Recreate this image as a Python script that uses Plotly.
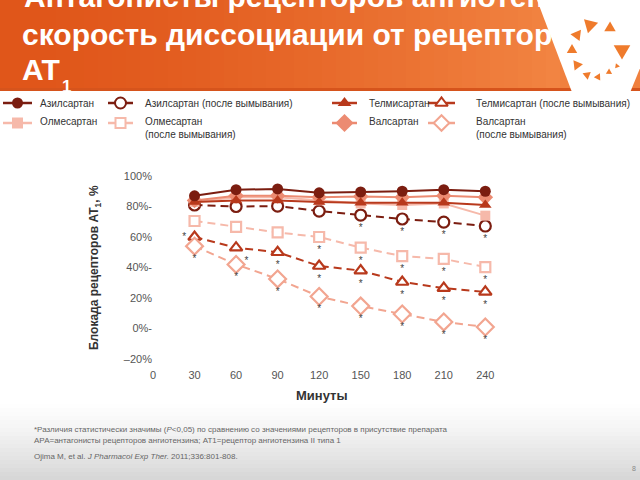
import numpy as np
import plotly.graph_objects as go

# Данные
minutes = [30, 60, 90, 120, 150, 180, 210, 240]

azil = [87, 91, 91.5, 89, 89.5, 90, 91, 90]
azil_wash = [81, 80, 80.3, 77, 74.4, 71.8, 69.8, 67.2]
telmi = [83, 84, 84, 83, 82.5, 82.5, 82.5, 81]
telmi_wash = [60, 53, 50, 41, 38, 30.5, 26.5, 24]
olme = [83, 86, 86, 84, 82, 81, 82, 74]
olme_wash = [70.5, 66.6, 63, 60, 53, 47.5, 45.6, 40.3]
vals = [84, 87, 87, 86, 86.5, 86, 87, 86]
vals_wash = [54, 42, 32.5, 21, 14.7, 9.5, 4.3, 1]

# точки со звездочкой (P<0,05)
azil_sig = [4, 5, 6, 7]
olme_sig = [3, 4, 5, 6, 7]
telmi_sig = [0, 1, 2, 3, 4, 5, 6, 7]
vals_sig = [0, 1, 2, 3, 4, 5, 6, 7]

x_ticks = [0, 30, 60, 90, 120, 150, 180, 210, 240]
y_ticks = [-20, 0, 20, 40, 60, 80, 100]
y_labels = ["–20%", "0%-", "20%", "40%-", "60%", "80%-", "100%"]

DARK = "#7B1D10"
RED = "#B8391C"
PINK = "#F6B9AA"
SALMON = "#EC8B72"
PINK_W = "#F2A590"
FONT = "Liberation Sans"

W, H = 640, 480


def px(x):
    return x / W


def py(y):
    return 1 - y / H


fig = go.Figure()

# фон: шапка с градиентом
shapes = []
c0 = np.array([224, 86, 26])
c1 = np.array([242, 132, 66])
n = 40
for i in range(n):
    t = i / (n - 1)
    c = (c0 + (c1 - c0) * t ** 1.5).astype(int)
    shapes.append(dict(type="rect", xref="paper", yref="paper", layer="below",
                       x0=px(i * 560 / n), x1=px((i + 1) * 560 / n + 1),
                       y0=py(91), y1=py(0), line_width=0,
                       fillcolor=f"rgb({c[0]},{c[1]},{c[2]})"))
shapes.append(dict(type="rect", xref="paper", yref="paper", layer="below",
                   x0=px(560), x1=1, y0=py(91), y1=py(0), line_width=0,
                   fillcolor="rgb(240,128,62)"))
shapes.append(dict(type="rect", xref="paper", yref="paper", layer="below",
                   x0=0, x1=1, y0=py(91), y1=py(88), line_width=0,
                   fillcolor="rgb(214,84,28)"))
# нижний серый градиент
for i in range(20):
    g = int(255 - 40 * (i / 19) ** 1.3)
    shapes.append(dict(type="rect", xref="paper", yref="paper", layer="below",
                       x0=0, x1=1, y0=py(400 + (i + 1) * 4), y1=py(400 + i * 4),
                       line_width=0, fillcolor=f"rgb({g},{g},{g})"))

# логотип: белая V и оранжевые треугольники
shapes.append(dict(type="path", xref="paper", yref="paper", layer="above",
                   path=f"M {px(537)},{py(0)} L {px(668)},{py(0)} L {px(600)},{py(166)} Z",
                   fillcolor="white", line_width=0))
logo = [(590, 25, 14), (610, 28, 11), (622, 50, 16), (577, 35, 11), (572, 50, 10),
        (577, 65, 10), (587, 75, 8), (598, 77, 7), (609, 72, 6), (617, 66, 5)]
for lx, ly, s in logo:
    a = np.arctan2(ly - 50, lx - 597) + np.pi / 2
    pts = []
    for k in range(3):
        b = a + k * 2 * np.pi / 3
        pts.append((lx + s * 0.6 * np.cos(b), ly + s * 0.6 * np.sin(b)))
    path = "M " + " L ".join(f"{px(x)},{py(y)}" for x, y in pts) + " Z"
    shapes.append(dict(type="path", xref="paper", yref="paper", layer="above",
                       path=path, fillcolor="#EF7B2C", line_width=0))

# серии: сначала после вымывания, затем основные
series = [
    ("Азилсартан (после вымывания)", azil_wash, DARK, "circle", 11, True),
    ("Олмесартан (после вымывания)", olme_wash, PINK, "square", 10, True),
    ("Телмисартан (после вымывания)", telmi_wash, RED, "triangle-up", 11, True),
    ("Валсартан (после вымывания)", vals_wash, PINK_W, "diamond", 13, True),
    ("Олмесартан", olme, PINK, "square", 10, False),
    ("Валсартан", vals, SALMON, "diamond", 12, False),
    ("Телмисартан", telmi, RED, "triangle-up", 11, False),
    ("Азилсартан", azil, DARK, "circle", 11, False),
]
for name, vals_, col, sym, size, wash in series:
    fig.add_trace(go.Scatter(
        x=minutes, y=vals_, mode="lines+markers", name=name,
        line=dict(color=col, width=2, dash="8px,5px" if wash else "solid"),
        marker=dict(symbol=sym, size=size,
                    color="white" if wash else col,
                    line=dict(color=col, width=2.2 if wash else 0)),
        cliponaxis=False, showlegend=False))

# звездочки
for vals_, sig in [(azil_wash, azil_sig), (olme_wash, olme_sig),
                   (telmi_wash, telmi_sig), (vals_wash, vals_sig)]:
    pos = ["bottom center"] * len(sig)
    if vals_ is telmi_wash:
        pos[0] = "middle left"
        pos[1] = "bottom right"
    fig.add_trace(go.Scatter(
        x=[minutes[i] for i in sig], y=[vals_[i] for i in sig],
        mode="markers+text", text=["*"] * len(sig), textposition=pos,
        marker=dict(size=12, opacity=0),
        textfont=dict(family=FONT, size=10, color="#444"),
        cliponaxis=False, showlegend=False, hoverinfo="skip"))

# заголовок: строки 2-3 под логотипом (текстовые трассы)
title_lines = [
    ("скорость диссоциации от рецепторов", 22, 37, 30),
    ("AT", 22, 72, 30),
    ("1", 62, 88, 17),
]
for txt, tx, ty, fs in title_lines:
    fig.add_trace(go.Scatter(
        x=[tx], y=[ty], mode="text", text=[txt], textposition="middle right",
        textfont=dict(family=FONT, size=fs, color="white", weight="bold"),
        xaxis="x2", yaxis="y2", cliponaxis=False, showlegend=False,
        hoverinfo="skip"))

annotations = [dict(x=px(22), y=py(-3), xref="paper", yref="paper",
                    text="<b>Антагонисты рецепторов ангиотензина:</b>",
                    showarrow=False, xanchor="left", yanchor="middle",
                    font=dict(family=FONT, size=30, color="white"))]

# легенда
legend_items = [
    ("Азилсартан", DARK, "circle", 11, False, 3, 32, 103, 38),
    ("Азилсартан (после вымывания)", DARK, "circle", 11, True, 108, 133, 103, 143),
    ("Телмисартан", RED, "triangle-up", 12, False, 332, 357, 103, 367),
    ("Телмисартан (после вымывания)", RED, "triangle-up", 11, True, 428, 455, 103, 474),
    ("Олмесартан", PINK, "square", 11, False, 3, 32, 123, 38),
    ("Олмесартан|(после вымывания)", PINK, "square", 10, True, 108, 133, 123, 143),
    ("Валсартан", SALMON, "diamond", 14, False, 332, 357, 123, 367),
    ("Валсартан|(после вымывания)", PINK_W, "diamond", 12, True, 428, 455, 123, 474),
]
for text, col, sym, size, wash, xa, xb, ly, tx in legend_items:
    fig.add_trace(go.Scatter(
        x=[xa, xb], y=[ly, ly], mode="lines", line=dict(color=col, width=2.5),
        xaxis="x2", yaxis="y2", showlegend=False, hoverinfo="skip"))
    fig.add_trace(go.Scatter(
        x=[(xa + xb) / 2], y=[ly], mode="markers",
        marker=dict(symbol=sym, size=size, color="white" if wash else col,
                    line=dict(color=col, width=2 if wash else 0)),
        xaxis="x2", yaxis="y2", showlegend=False, hoverinfo="skip"))
    parts = text.split("|")
    for k, p in enumerate(parts):
        yy = ly + k * 13 - (2 if ly > 110 else 0)
        annotations.append(dict(x=px(tx), y=py(yy), xref="paper", yref="paper",
                                text=p, showarrow=False, xanchor="left",
                                yanchor="middle",
                                font=dict(family=FONT, size=10, color="#333")))

# подписи осей
annotations.append(dict(x=px(95), y=py(268), xref="paper", yref="paper",
                        text="<b>Блокада рецепторов AT<sub>1</sub>, %</b>",
                        textangle=-90, showarrow=False,
                        xanchor="center", yanchor="middle",
                        font=dict(family=FONT, size=12, color="#333")))
annotations.append(dict(x=px(322), y=py(395), xref="paper", yref="paper",
                        text="<b>Минуты</b>", showarrow=False,
                        xanchor="center", yanchor="middle",
                        font=dict(family=FONT, size=13, color="#333")))

# сноски
notes = [
    ("*Различия статистически значимы (<i>P</i><0,05) по сравнению со значениями рецепторов в присутствие препарата", 429),
    ("АРА=антагонисты рецепторов ангиотензина; АТ1=рецептор ангиотензина II типа 1", 440),
    ("Ojima M, et al. <i>J Pharmacol Exp Ther.</i> 2011;336:801-808.", 456),
]
for txt, ny in notes:
    annotations.append(dict(x=px(32), y=py(ny), xref="paper", yref="paper",
                            text=txt, showarrow=False, xanchor="left",
                            yanchor="middle",
                            font=dict(family=FONT, size=8, color="#666")))
annotations.append(dict(x=px(634), y=py(468), xref="paper", yref="paper",
                        text="8", showarrow=False, xanchor="center",
                        yanchor="middle",
                        font=dict(family=FONT, size=7, color="#888")))

fig.update_layout(
    width=W, height=H, autosize=False,
    margin=dict(l=0, r=0, t=0, b=0),
    paper_bgcolor="white",
    plot_bgcolor="rgba(0,0,0,0)",
    shapes=shapes,
    annotations=annotations,
    xaxis=dict(domain=[px(153), px(495)], range=[0, 247], tickvals=x_ticks,
               showgrid=False, zeroline=False, showline=False, ticks="",
               ticklabelstandoff=8, automargin=False,
               tickfont=dict(family=FONT, size=11, color="#555")),
    yaxis=dict(domain=[py(359), py(176)], range=[-20, 100], tickvals=y_ticks,
               ticktext=y_labels, showgrid=False, zeroline=False,
               showline=False, ticks="", automargin=False,
               tickfont=dict(family=FONT, size=11, color="#555")),
    xaxis2=dict(domain=[0, 1], range=[0, W], visible=False, anchor="y2"),
    yaxis2=dict(domain=[0, 1], range=[H, 0], visible=False, anchor="x2"),
)

fig.write_html("out.html",
               config={"displayModeBar": False},
               post_script="document.body.style.margin='0';"
                           "document.body.style.overflow='hidden';")
